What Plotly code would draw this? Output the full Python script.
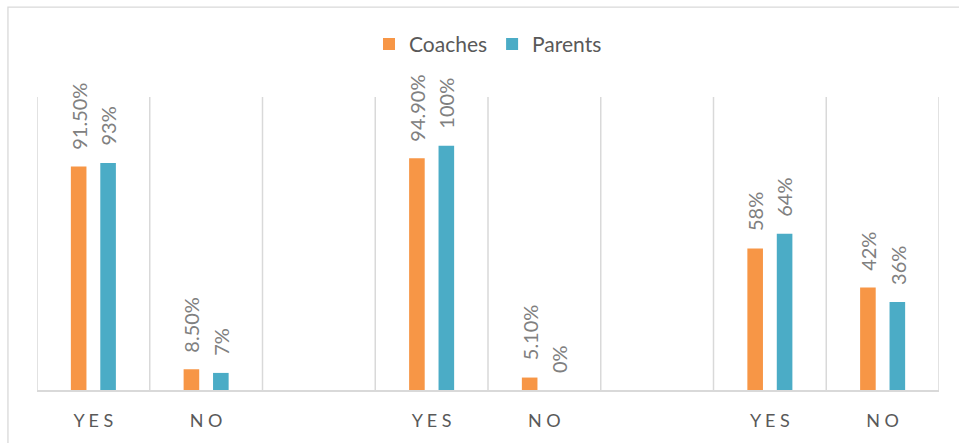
import plotly.graph_objects as go

# Survey answers for three questions, each split into YES / NO with a spacer between groups
categories = ["YES", "NO", "", "YES", "NO", "", "YES", "NO"]
coaches = [91.5, 8.5, None, 94.9, 5.1, None, 58, 42]
parents = [93, 7, None, 100, 0, None, 64, 36]
# decimals shown in each data label
coaches_decimals = [2, 2, None, 2, 2, None, 0, 0]
parents_decimals = [0, 0, None, 0, 0, None, 0, 0]

ORANGE = "#F79646"
BLUE = "#4BACC6"
GRID = "#d9d9d9"
LABEL_GREY = "#808080"
TEXT_GREY = "#595959"
FONT = "Lato"

x = list(range(len(categories)))


def fmt(v, d):
    if v is None:
        return None
    return f"{v:.{d}f}%"


fig = go.Figure()
fig.add_trace(go.Bar(name="Coaches", x=x, y=coaches, marker_color=ORANGE,
                     marker_line_width=0))
fig.add_trace(go.Bar(name="Parents", x=x, y=parents, marker_color=BLUE,
                     marker_line_width=0))

# rotated value labels above each bar
bargap = 0.478
slot = (1 - bargap) / 2
for series, decs, offset in ((coaches, coaches_decimals, -slot / 2),
                             (parents, parents_decimals, slot / 2)):
    for xi, v, d in zip(x, series, decs):
        if v is None:
            continue
        fig.add_annotation(x=xi + offset, y=v, xref="x", yref="y",
                           text=fmt(v, d), textangle=-90, showarrow=False,
                           xanchor="center", yanchor="bottom", yshift=15,
                           font=dict(family=FONT, size=20, color=LABEL_GREY))

# vertical separators at category boundaries
for b in range(len(categories) + 1):
    fig.add_shape(type="line", xref="x", yref="paper", x0=b - 0.5, x1=b - 0.5,
                  y0=0, y1=1, line=dict(color=GRID, width=1.5), layer="below")

# outer chart frame
fig.add_shape(type="rect", xref="paper", yref="paper",
              x0=-0.0322, x1=1.2, y0=-0.4, y1=1.307,
              line=dict(color=GRID, width=1.3), layer="below")

fig.update_layout(
    width=959, height=443,
    margin=dict(l=37, r=20, t=97, b=53, autoexpand=False),
    paper_bgcolor="white", plot_bgcolor="white",
    barmode="group", bargap=bargap, bargroupgap=0.47,
    font=dict(family=FONT, color=TEXT_GREY),
    legend=dict(orientation="h", x=0.5, xanchor="center", y=1.18,
                yanchor="middle", font=dict(size=21, color=TEXT_GREY),
                bgcolor="rgba(0,0,0,0)", itemwidth=30, traceorder="normal"),
    showlegend=True,
)
fig.update_xaxes(range=[-0.5, len(categories) - 0.5], tickmode="array",
                 tickvals=x, ticktext=[" ".join(c) for c in categories],
                 showgrid=False, showline=True, linecolor=GRID, linewidth=2,
                 ticks="", ticklabelstandoff=13,
                 tickfont=dict(family=FONT, size=18, color=TEXT_GREY),
                 automargin=False, fixedrange=True)
fig.update_yaxes(range=[0, 120], showgrid=False, showticklabels=False,
                 zeroline=False, showline=False, automargin=False,
                 fixedrange=True)

fig.write_html("out.html")
